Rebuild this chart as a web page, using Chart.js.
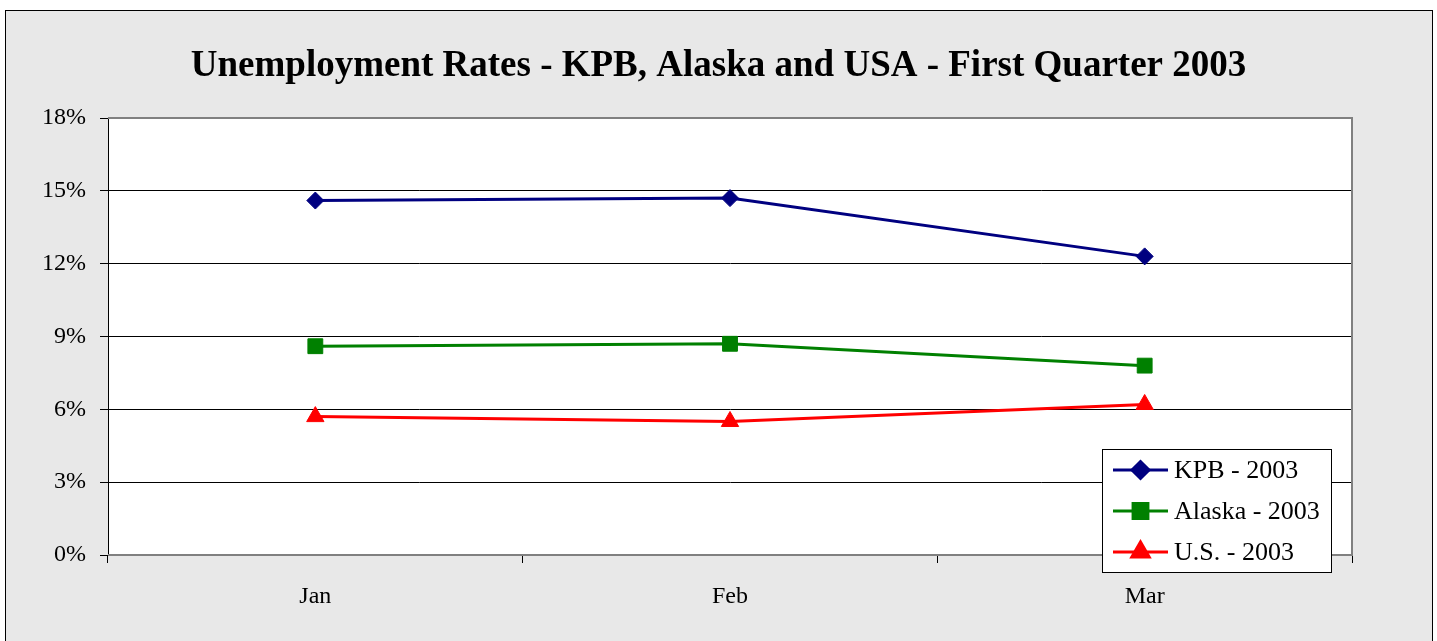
<!DOCTYPE html>
<html>
<head>
<meta charset="utf-8">
<title>Unemployment Rates - KPB, Alaska and USA - First Quarter 2003</title>
<script src="https://cdn.jsdelivr.net/npm/chart.js@4.4.1/dist/chart.umd.min.js"></script>
<style>
    html, body { margin: 0; padding: 0; background: #fff; }
    #wrap { width: 1437px; height: 641px; }
</style>
</head>
<body>
<div id="wrap"><canvas id="rateChart" width="1437" height="641"></canvas></div>
<script>
// Monthly unemployment rates (%), first quarter 2003
const months = ['Jan', 'Feb', 'Mar'];
const kpbRates = [14.6, 14.7, 12.3];
const alaskaRates = [8.6, 8.7, 7.8];
const usRates = [5.7, 5.5, 6.2];
const seriesLabels = ['KPB - 2003', 'Alaska - 2003', 'U.S. - 2003'];
const yTickValues = [0, 3, 6, 9, 12, 15, 18];
const chartTitle = 'Unemployment Rates - KPB, Alaska and USA - First Quarter 2003';

const SERIF = '"Liberation Serif", "Times New Roman", serif';

/**
 * Gray panel behind the chart, white plot area, gray plot frame and the title
 */
const panelPlugin = {
    id: 'panel',
    beforeDraw(chart) {
        const ctx = chart.ctx;
        const area = chart.chartArea;
        ctx.save();
        ctx.fillStyle = '#ffffff';
        ctx.fillRect(0, 0, chart.width, chart.height);
        ctx.fillStyle = '#e8e8e8';
        ctx.fillRect(5, 10, 1428, 660);
        ctx.strokeStyle = '#000';
        ctx.lineWidth = 1;
        ctx.strokeRect(5.5, 10.5, 1427, 660);
        ctx.fillStyle = '#ffffff';
        ctx.fillRect(area.left, area.top, area.right - area.left, area.bottom - area.top);

        // title, centred on the whole panel
        ctx.fillStyle = '#000';
        ctx.font = 'bold 37px ' + SERIF;
        ctx.textAlign = 'center';
        ctx.textBaseline = 'alphabetic';
        ctx.fillText(chartTitle, chart.width / 2, 76);
        ctx.restore();
    },
    beforeDatasetsDraw(chart) {
        const ctx = chart.ctx;
        const area = chart.chartArea;
        ctx.save();
        ctx.strokeStyle = '#808080';
        ctx.lineWidth = 2;
        ctx.beginPath();
        ctx.moveTo(area.left, area.top);
        ctx.lineTo(area.right, area.top);
        ctx.lineTo(area.right, area.bottom);
        ctx.lineTo(area.left, area.bottom);
        ctx.stroke();
        ctx.restore();
    }
};

/**
 * Boxed legend sitting over the lower right corner of the plot
 */
const boxLegendPlugin = {
    id: 'boxLegend',
    afterDraw(chart) {
        const ctx = chart.ctx;
        const area = chart.chartArea;
        const box = { x: area.right - 250, y: area.bottom - 106, w: 229, h: 123 };
        const rowGap = 41;

        ctx.save();
        ctx.fillStyle = '#ffffff';
        ctx.fillRect(box.x, box.y, box.w, box.h);
        ctx.strokeStyle = '#000';
        ctx.lineWidth = 1;
        ctx.strokeRect(box.x + 0.5, box.y + 0.5, box.w, box.h);

        chart.data.datasets.forEach((ds, i) => {
            const cy = box.y + 21 + i * rowGap;
            const x0 = box.x + 11;
            const x1 = box.x + 66;
            ctx.strokeStyle = ds.borderColor;
            ctx.lineWidth = ds.borderWidth;
            ctx.beginPath();
            ctx.moveTo(x0, cy);
            ctx.lineTo(x1, cy);
            ctx.stroke();

            ctx.fillStyle = ds.pointBackgroundColor;
            ctx.strokeStyle = ds.pointBorderColor;
            Chart.helpers.drawPoint(ctx, {
                pointStyle: ds.pointStyle,
                radius: ds.pointRadius,
                rotation: 0,
                borderWidth: 1
            }, (x0 + x1) / 2, cy);

            ctx.fillStyle = '#000';
            ctx.font = '26px ' + SERIF;
            ctx.textBaseline = 'middle';
            ctx.textAlign = 'left';
            ctx.fillText(ds.label, x1 + 6, cy + 1);
        });
        ctx.restore();
    }
};

function seriesStyle(color, style, radius) {
    return {
        borderColor: color,
        backgroundColor: color,
        borderWidth: 3,
        pointStyle: style,
        pointRadius: radius,
        pointHoverRadius: radius,
        pointBackgroundColor: color,
        pointBorderColor: color,
        pointBorderWidth: 1,
        tension: 0
    };
}

document.addEventListener('DOMContentLoaded', function() {
    const ctx = document.getElementById('rateChart');

    new Chart(ctx, {
        type: 'line',
        data: {
            labels: months,
            datasets: [
                Object.assign({ label: seriesLabels[0], data: kpbRates }, seriesStyle('#000080', 'rectRot', 8.5)),
                Object.assign({ label: seriesLabels[1], data: alaskaRates }, seriesStyle('#008000', 'rect', 10.5)),
                Object.assign({ label: seriesLabels[2], data: usRates }, seriesStyle('#ff0000', 'triangle', 10))
            ]
        },
        options: {
            responsive: false,
            animation: false,
            devicePixelRatio: 1,
            layout: {
                padding: { left: 0, right: 85, top: 118, bottom: 0 }
            },
            plugins: {
                legend: { display: false },
                tooltip: { enabled: false },
                title: { display: false }
            },
            scales: {
                x: {
                    offset: true,
                    afterFit: function(scale) { scale.height = 86; },
                    grid: {
                        offset: true,
                        drawOnChartArea: false,
                        drawTicks: true,
                        tickLength: 8,
                        color: '#000',
                        lineWidth: 1
                    },
                    border: { display: false },
                    ticks: {
                        color: '#000',
                        padding: 19,
                        font: { family: SERIF, size: 24 }
                    }
                },
                y: {
                    min: 0,
                    max: 18,
                    afterFit: function(scale) { scale.width = 108; },
                    afterBuildTicks: function(scale) {
                        scale.ticks = yTickValues.map(v => ({ value: v }));
                    },
                    grid: {
                        color: c => (c.tick && (c.tick.value === 0 || c.tick.value === 18)) ? 'rgba(0,0,0,0)' : '#000',
                        tickColor: '#000',
                        lineWidth: 1,
                        tickLength: 8
                    },
                    border: { display: true, color: '#000', width: 1 },
                    ticks: {
                        color: '#000',
                        padding: 14,
                        font: { family: SERIF, size: 24 },
                        callback: v => v + '%'
                    }
                }
            }
        },
        plugins: [panelPlugin, boxLegendPlugin]
    });
});
</script>
</body>
</html>
